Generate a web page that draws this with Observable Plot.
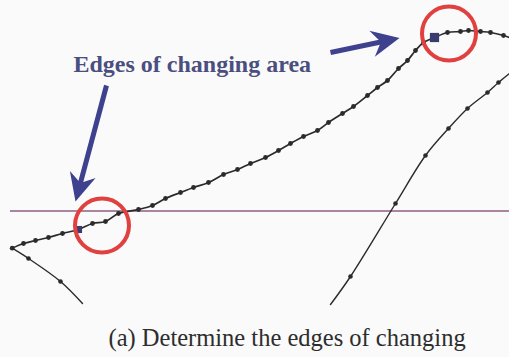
<!DOCTYPE html>
<html>
<head>
<meta charset="utf-8">
<script src="https://cdn.jsdelivr.net/npm/d3@7"></script>
<script src="https://cdn.jsdelivr.net/npm/@observablehq/plot@0.6"></script>
<style>
  html, body { margin: 0; padding: 0; background: #fafafa; }
  #chart svg { display: block; background: #fafafa; }
</style>
</head>
<body>
<div id="chart"></div>
<script>
// Rising profile (sampled points), position vs. depth below the top edge
const upperX = [11.7, 23, 35, 48, 62, 78, 92, 105, 118, 138, 152, 165, 180, 193, 208, 223, 237, 250, 265, 278, 290, 303, 317, 328, 342, 353, 367, 377, 387, 398, 407, 415, 423, 434, 447, 460, 468, 480, 490, 503, 509];
const upperY = [247.7, 243, 240, 237, 233, 229, 223, 221, 213, 209, 205, 198, 192, 187, 182, 174, 169, 163, 157, 150, 143, 136, 130, 122, 113, 106, 95, 87, 80, 68, 60, 50, 42, 37, 32, 31, 30, 31, 32, 35, 37];

// Falling branch at the left
const leftX = [11.7, 28, 60, 82];
const leftY = [247.7, 258, 281, 303];
const leftDots = [1, 2];

// Second rising branch at the right
const rightX = [330, 350, 395, 425, 448, 467, 487, 498, 509];
const rightY = [304, 276, 203, 155, 128, 108, 92, 82, 73];
const rightDots = [1, 2, 3, 4, 5, 6, 7];

// Threshold level
const thresholdY = 210.5;
const thresholdX = [10, 509];

// Detected edges of the changing area (indices into the rising profile)
const edgeIdx = [5, 33];
const edgeSizes = [4, 5.2];

// Highlight circles
const ringX = [101.5, 448.5];
const ringY = [225, 33];

// Annotation arrows: tail and tip
const arrowTailX = [106, 330];
const arrowTailY = [85, 52];
const arrowTipX = [75, 399];
const arrowTipY = [201, 37.5];

const labelText = "Edges of changing area";
const captionText = "(a) Determine the edges of changing";

const W = 509, H = 357;

const upper = upperX.map((x, i) => ({x, y: upperY[i]}));
const left = leftX.map((x, i) => ({x, y: leftY[i]}));
const right = rightX.map((x, i) => ({x, y: rightY[i]}));
const upperDots = upper.filter((d, i) => !edgeIdx.includes(i) && i < upper.length - 1);
const edges = edgeIdx.map((i, k) => ({...upper[i], r: edgeSizes[k]}));
const rings = ringX.map((x, i) => ({x, y: ringY[i]}));
const arrows = arrowTailX.map((x, i) => {
  const x2 = arrowTipX[i], y2 = arrowTipY[i], y1 = arrowTailY[i];
  const ang = Math.atan2(x2 - x, -(y2 - y1)) * 180 / Math.PI;
  const len = Math.hypot(x2 - x, y2 - y1);
  const t = (len - 18) / len; // shaft stops inside the head
  return {x1: x, y1, x2, y2, sx: x + (x2 - x) * t, sy: y1 + (y2 - y1) * t, ang};
});

// Filled barbed arrowhead, tip at the origin pointing up
const arrowHead = {
  draw(context, size) {
    const s = Math.sqrt(size / Math.PI);
    const L = 2 * s, w = 0.95 * s;
    context.moveTo(0, 0);
    context.lineTo(w, L);
    context.lineTo(0, 0.68 * L);
    context.lineTo(-w, L);
    context.closePath();
  }
};

const ink = "#2b2b2b";
const navy = "#3d418e";
const serif = "'Liberation Serif', 'Times New Roman', serif";

const chart = Plot.plot({
  width: W,
  height: H,
  margin: 0,
  x: {domain: [0, W], range: [0, W], axis: null},
  y: {domain: [0, H], range: [0, H], axis: null},
  style: {background: "#fafafa", overflow: "visible"},
  marks: [
    Plot.ruleY([thresholdY], {x1: thresholdX[0], x2: thresholdX[1], stroke: "#8e5f80", strokeWidth: 1.4}),
    Plot.line(left, {x: "x", y: "y", stroke: ink, strokeWidth: 1.4, curve: "catmull-rom"}),
    Plot.line(right, {x: "x", y: "y", stroke: ink, strokeWidth: 1.4, curve: "catmull-rom"}),
    Plot.line(upper, {x: "x", y: "y", stroke: ink, strokeWidth: 1.7, curve: "catmull-rom"}),
    Plot.dot(upperDots, {x: "x", y: "y", r: 2.4, fill: ink, stroke: "none"}),
    Plot.dot(leftDots.map(i => left[i]), {x: "x", y: "y", r: 2.3, fill: ink, stroke: "none"}),
    Plot.dot(rightDots.map(i => right[i]), {x: "x", y: "y", r: 2.3, fill: ink, stroke: "none"}),
    Plot.dot(edges, {x: "x", y: "y", r: "r", symbol: "square", fill: "#3a3c6c", stroke: "none"}),
    Plot.dot(rings, {x: "x", y: "y", r: 27, fill: "none", stroke: "#e0403f", strokeWidth: 4}),
    Plot.link(arrows, {x1: "x1", y1: "y1", x2: "sx", y2: "sy", stroke: navy, strokeWidth: 5}),
    Plot.dot(arrows, {x: "x2", y: "y2", r: 14, rotate: "ang", symbol: arrowHead, fill: navy, stroke: "none"}),
    Plot.text([labelText], {x: 73, y: 64.3, text: d => d, textAnchor: "start", fontFamily: serif, fontWeight: "bold", fontSize: 24, fill: "#4b4f80"}),
    Plot.text([captionText], {x: 108, y: 337.2, text: d => d, textAnchor: "start", fontFamily: serif, fontSize: 24.5, fill: "#2d2d2d"})
  ],
  r: {type: "identity"}
});

document.getElementById("chart").appendChild(chart);
</script>
</body>
</html>
